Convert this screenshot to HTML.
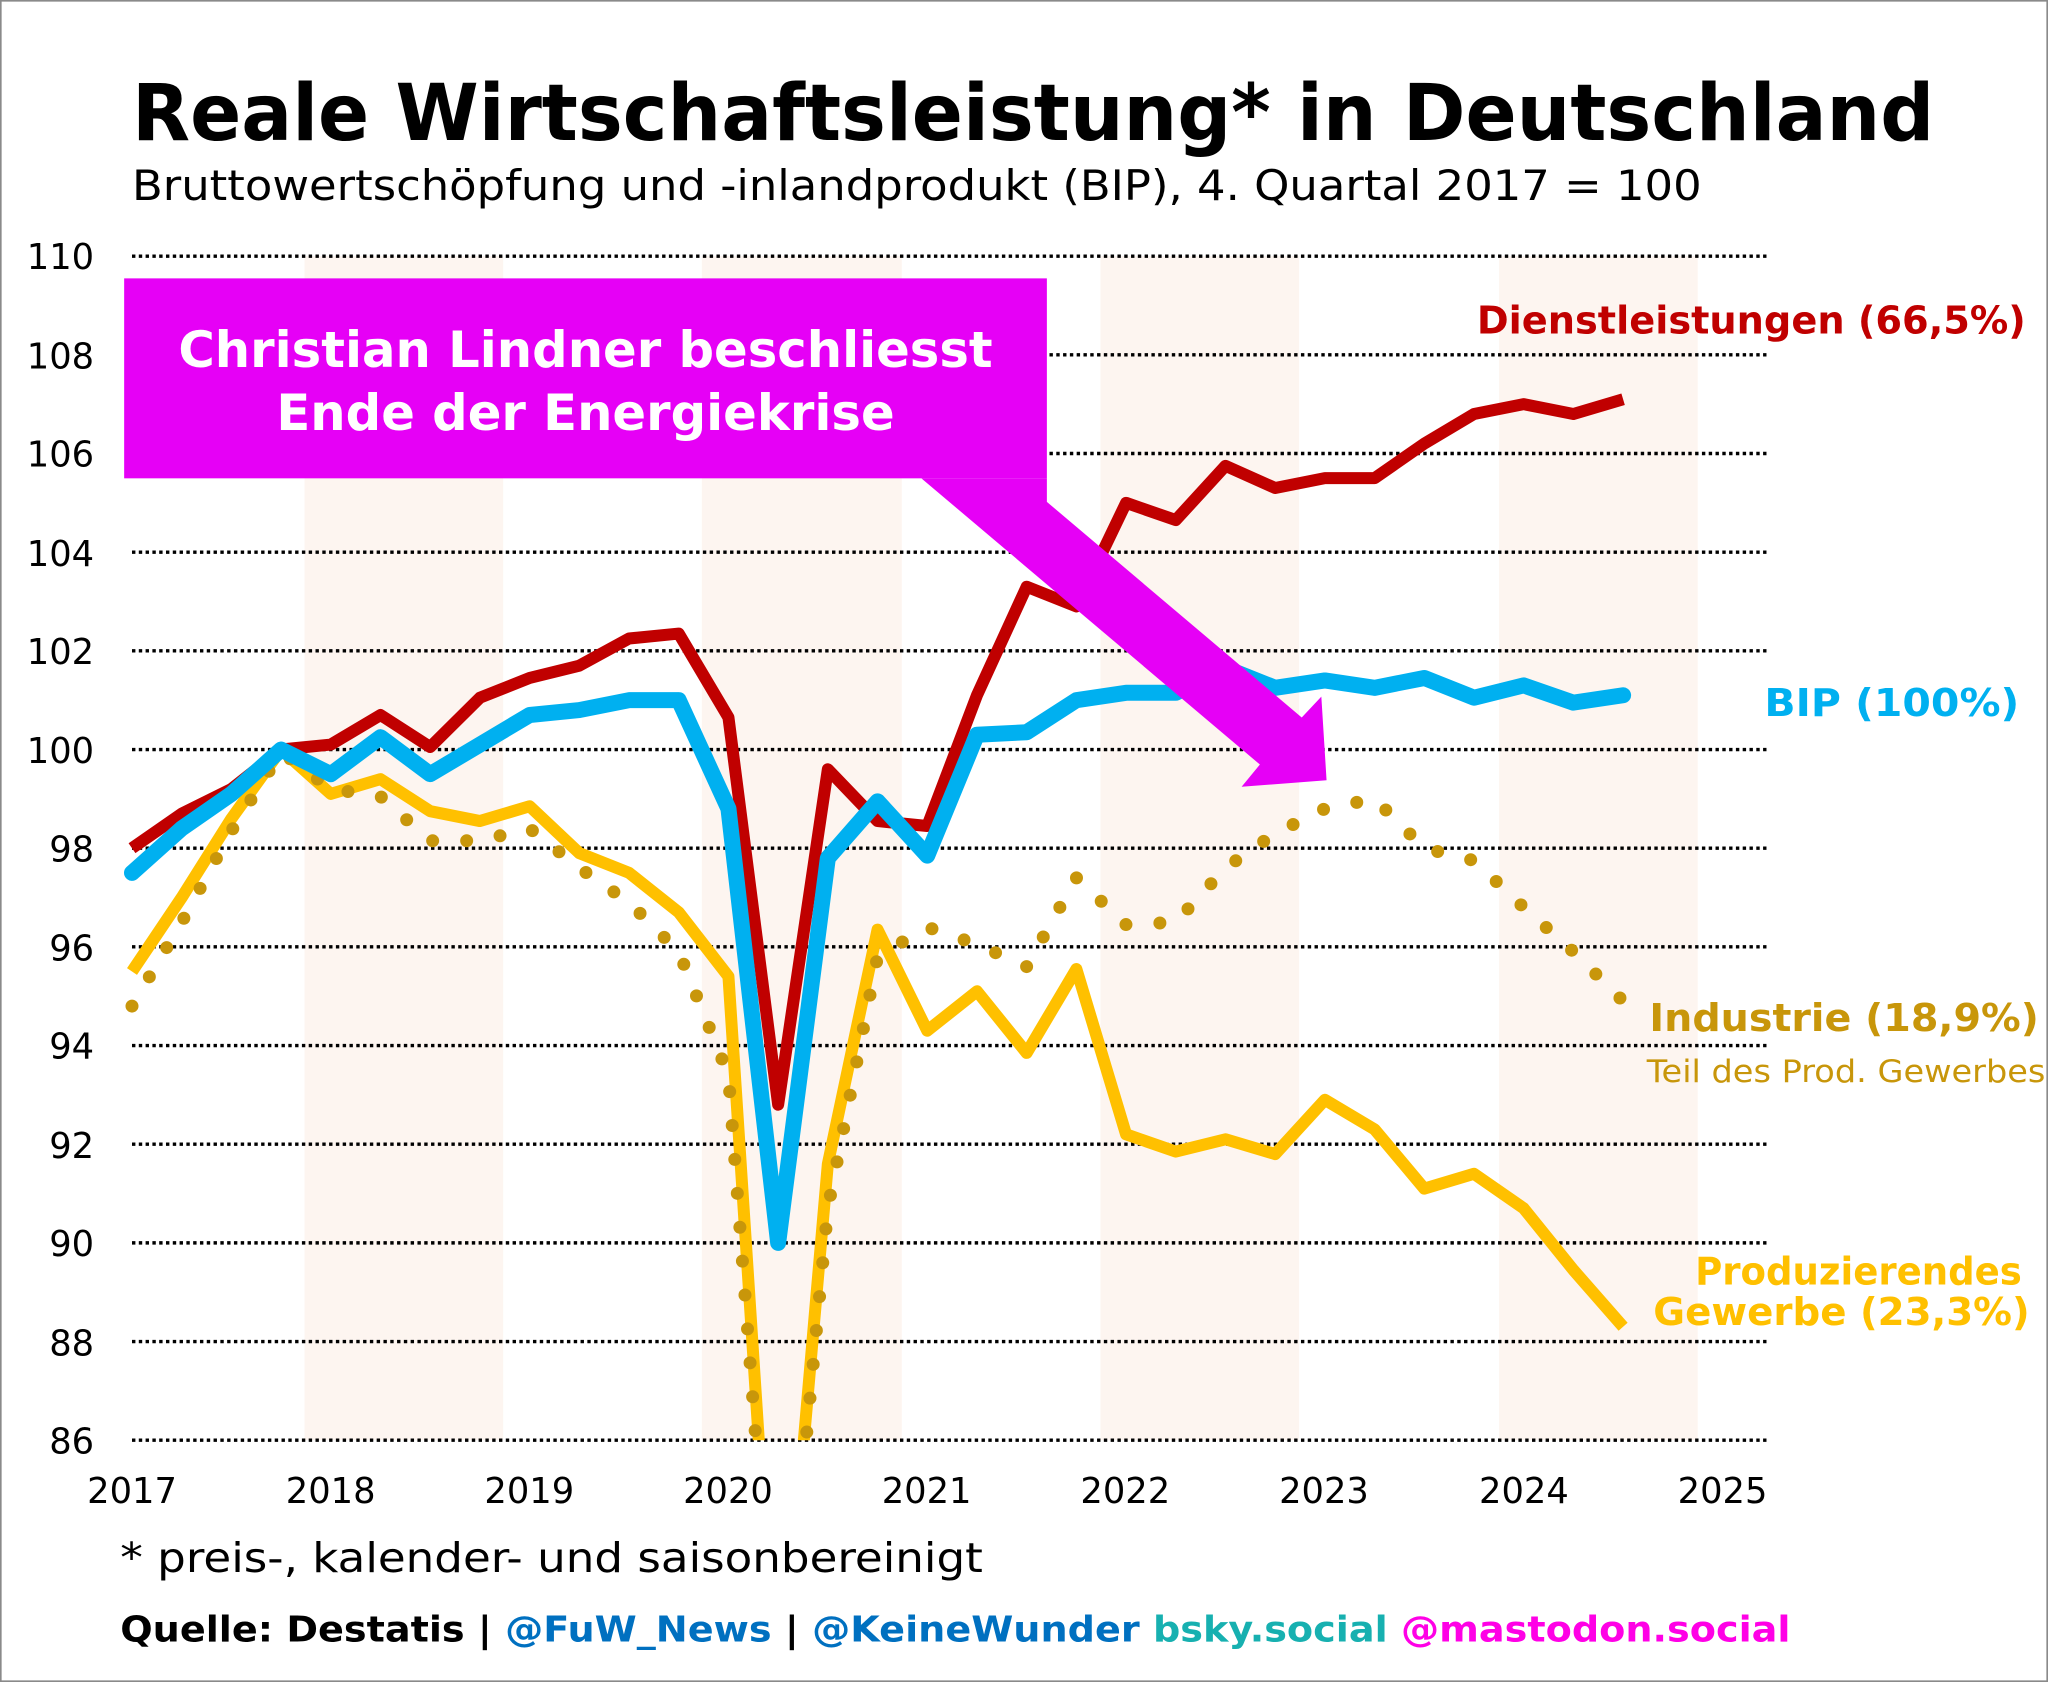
<!DOCTYPE html>
<html><head><meta charset="utf-8"><style>
html,body{margin:0;padding:0;background:#fff}
svg{display:block}
text{font-family:"DejaVu Sans","Liberation Sans",sans-serif}
</style></head><body>
<svg width="2048" height="1682" viewBox="0 0 1567 1287" preserveAspectRatio="none" xmlns="http://www.w3.org/2000/svg">
<defs><clipPath id="c"><rect x="0" y="150" width="1567" height="952"/></clipPath></defs>
<rect x="0.5" y="0.5" width="1566" height="1286" fill="#fff" stroke="#8a8a8a" stroke-width="1.5"/>
<text x="101" y="107" font-size="60" font-weight="bold" textLength="1379" lengthAdjust="spacingAndGlyphs">Reale Wirtschaftsleistung* in Deutschland</text>
<text x="101" y="153" font-size="32" textLength="1201" lengthAdjust="spacingAndGlyphs">Bruttowertschöpfung und -inlandprodukt (BIP), 4. Quartal 2017 = 100</text>
<g fill="#fdf5f0">
<rect x="233" y="196" width="152" height="906"/><rect x="537" y="196" width="153" height="906"/>
<rect x="842" y="196" width="152" height="906"/><rect x="1147" y="196" width="152" height="906"/>
</g>
<g stroke="#000" stroke-width="2.6" stroke-dasharray="2.6 2.6">
<line x1="101" x2="1353" y1="196" y2="196"/><line x1="101" x2="1353" y1="271.5" y2="271.5"/>
<line x1="101" x2="1353" y1="347" y2="347"/><line x1="101" x2="1353" y1="422.5" y2="422.5"/>
<line x1="101" x2="1353" y1="498" y2="498"/><line x1="101" x2="1353" y1="573.5" y2="573.5"/>
<line x1="101" x2="1353" y1="649" y2="649"/><line x1="101" x2="1353" y1="724.5" y2="724.5"/>
<line x1="101" x2="1353" y1="800" y2="800"/><line x1="101" x2="1353" y1="875.5" y2="875.5"/>
<line x1="101" x2="1353" y1="951" y2="951"/><line x1="101" x2="1353" y1="1026.5" y2="1026.5"/>
<line x1="101" x2="1353" y1="1102" y2="1102"/>
</g>
<g font-size="27" text-anchor="end">
<text x="72" y="206">110</text><text x="72" y="282">108</text><text x="72" y="357">106</text>
<text x="72" y="433">104</text><text x="72" y="508">102</text><text x="72" y="584">100</text>
<text x="72" y="659">98</text><text x="72" y="735">96</text><text x="72" y="810">94</text>
<text x="72" y="886">92</text><text x="72" y="961">90</text><text x="72" y="1037">88</text>
<text x="72" y="1112">86</text>
</g>
<g font-size="27" text-anchor="middle">
<text x="101" y="1150">2017</text><text x="253" y="1150">2018</text><text x="405" y="1150">2019</text>
<text x="557" y="1150">2020</text><text x="709" y="1150">2021</text><text x="861" y="1150">2022</text>
<text x="1013" y="1150">2023</text><text x="1166" y="1150">2024</text><text x="1318" y="1150">2025</text>
</g>
<g clip-path="url(#c)">
<g transform="matrix(38.03 0 0 -37.75 101 4348.5)" fill="none" stroke-linejoin="round" vector-effect="non-scaling-stroke">
<polyline vector-effect="non-scaling-stroke" stroke="#FFC000" stroke-width="12" points="0,95.5 1,97 2,98.6 3,100 4,99.1 5,99.4 6,98.75 7,98.55 8,98.85 9,97.9 10,97.5 11,96.7 12,95.4 13,80 14,91.6 15,96.35 16,94.3 17,95.1 18,93.85 19,95.55 20,92.2 21,91.85 22,92.1 23,91.8 24,92.9 25,92.3 26,91.1 27,91.4 28,90.7 29,89.45 30,88.3"/>
<polyline vector-effect="non-scaling-stroke" stroke="#C8960A" stroke-width="13" stroke-linecap="round" stroke-dasharray="0 34" points="0,94.8 1,96.5 2,98.35 3,99.95 4,99.2 5,99.05 6,98.15 7,98.15 8,98.4 9,97.6 10,96.9 11,95.9 12,93.4 13,80 14,90.7 15,95.8 16,96.4 17,96.05 18,95.6 19,97.4 20,96.45 21,96.5 22,97.6 23,98.3 24,98.8 25,99 26,98 27,97.75 28,96.8 29,95.9 30,94.9"/>
<polyline vector-effect="non-scaling-stroke" stroke="#C00000" stroke-width="12" points="0,98 1,98.7 2,99.2 3,100 4,100.1 5,100.7 6,100.05 7,101.05 8,101.45 9,101.7 10,102.25 11,102.35 12,100.65 13,92.8 14,99.6 15,98.55 16,98.45 17,101.1 18,103.3 19,102.9 20,105 21,104.65 22,105.75 23,105.3 24,105.5 25,105.5 26,106.2 27,106.8 28,107 29,106.8 30,107.1"/>
<polyline vector-effect="non-scaling-stroke" stroke="#00B0F0" stroke-width="16" stroke-linecap="round" points="0,97.5 1,98.4 2,99.1 3,100 4,99.5 5,100.25 6,99.5 7,100.1 8,100.7 9,100.8 10,101 11,101 12,98.8 13,90 14,97.8 15,98.95 16,97.85 17,100.3 18,100.35 19,101 20,101.15 21,101.15 22,101.65 23,101.25 24,101.4 25,101.25 26,101.45 27,101.05 28,101.3 29,100.95 30,101.1"/>
</g>
</g>
<polygon fill="#E600F6" points="705,366 964,585 950,602 1015,597 1011,533 996,549 801,384 801,366"/>
<rect x="95" y="213" width="706" height="153" fill="#E600F6"/>
<g fill="#fff" font-size="38" font-weight="bold" text-anchor="middle">
<text x="448" y="281">Christian Lindner beschliesst</text>
<text x="448" y="329">Ende der Energiekrise</text>
</g>
<g font-weight="bold" font-size="29">
<text x="1130" y="255" fill="#C00000" textLength="420" lengthAdjust="spacingAndGlyphs">Dienstleistungen (66,5%)</text>
<text x="1350" y="548" fill="#00B0F0" textLength="195" lengthAdjust="spacingAndGlyphs">BIP (100%)</text>
<text x="1262" y="789" fill="#C8960A" textLength="298" lengthAdjust="spacingAndGlyphs">Industrie (18,9%)</text>
<text x="1297" y="983" fill="#FFC000" textLength="250" lengthAdjust="spacingAndGlyphs">Produzierendes</text>
<text x="1265" y="1014" fill="#FFC000" textLength="288" lengthAdjust="spacingAndGlyphs">Gewerbe (23,3%)</text>
</g>
<text x="1260" y="828" fill="#C8960A" font-size="24" textLength="305" lengthAdjust="spacingAndGlyphs">Teil des Prod. Gewerbes</text>
<text x="92" y="1203" font-size="31" textLength="660" lengthAdjust="spacingAndGlyphs">* preis-, kalender- und saisonbereinigt</text>
<text x="92" y="1256" font-size="27" font-weight="bold" textLength="1278" lengthAdjust="spacingAndGlyphs"><tspan fill="#000">Quelle: Destatis | </tspan><tspan fill="#0070C0">@FuW_News</tspan><tspan fill="#000"> | </tspan><tspan fill="#0070C0">@KeineWunder </tspan><tspan fill="#17B0B0">bsky.social </tspan><tspan fill="#FF00E6">@mastodon.social</tspan></text>
</svg>
</body></html>
